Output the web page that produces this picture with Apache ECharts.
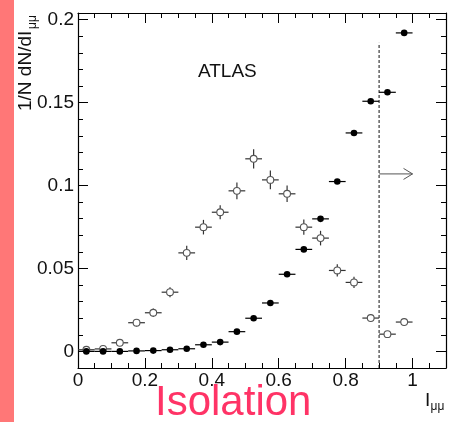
<!DOCTYPE html>
<html>
<head>
<meta charset="utf-8">
<script src="https://cdn.jsdelivr.net/npm/echarts@6/dist/echarts.min.js"></script>
<style>
  html, body { margin: 0; padding: 0; background: #fff; }
  #chart { width: 456px; height: 422px; }
</style>
</head>
<body>
<div id="chart"></div>
<script>
// bin centres of the isolation histogram (bin width 0.05)
var binCenters = [0.025, 0.075, 0.125, 0.175, 0.225, 0.275, 0.325, 0.375, 0.425, 0.475,
                  0.525, 0.575, 0.625, 0.675, 0.725, 0.775, 0.825, 0.875, 0.925, 0.975]
var binWidth = 0.05

// filled markers
var filledValues = [0.0, 0.0, 0.0, 0.0003, 0.0005, 0.001, 0.0016, 0.004, 0.0056, 0.0119,
                    0.02, 0.0292, 0.0465, 0.0615, 0.0799, 0.1024, 0.1317, 0.1508, 0.1562, 0.192]

// open markers and their vertical errors
var openValues = [0.001, 0.0015, 0.0052, 0.0173, 0.0233, 0.0357, 0.0594, 0.0749, 0.0839, 0.0968,
                  0.1161, 0.1034, 0.095, 0.0749, 0.0683, 0.0488, 0.0416, 0.0201, 0.0104, 0.0177]
var openErrors = [0.0005, 0.0007, 0.0012, 0.0022, 0.0026, 0.003, 0.0043, 0.0044, 0.0042, 0.005,
                  0.0058, 0.0056, 0.005, 0.0046, 0.0044, 0.0037, 0.0034, 0.0024, 0.0017, 0.0022]

// cut line and arrow
var cutX = 0.9
var cutTop = 0.186
var arrowY = 0.107
var arrowEnd = 1.0

// axes
var xRange = [0, 1.1]
var yRange = [-0.01, 0.204]
var xLabels = [0, 0.2, 0.4, 0.6, 0.8, 1]
var xMinor = [0.05, 0.1, 0.15, 0.25, 0.3, 0.35, 0.45, 0.5, 0.55, 0.65, 0.7, 0.75, 0.85, 0.9, 0.95, 1.05]
var yLabels = [0, 0.05, 0.1, 0.15, 0.2]
var yMinor = [-0.01, 0.01, 0.02, 0.03, 0.04, 0.06, 0.07, 0.08, 0.09, 0.11, 0.12, 0.13, 0.14,
              0.16, 0.17, 0.18, 0.19]

var font = 'Liberation Sans, Arial, Helvetica, sans-serif'

var chart = echarts.init(document.getElementById('chart'), null, { renderer: 'canvas' })

function makeAxis(range, pos, ticks, len, withLine, labels) {
  return {
    type: 'value',
    position: pos,
    min: range[0],
    max: range[1],
    splitLine: { show: false },
    axisLine: { show: withLine, onZero: false, lineStyle: { color: '#000', width: 1.2 } },
    axisTick: { show: true, inside: true, length: len, customValues: ticks,
                lineStyle: { color: '#000', width: 1 } },
    axisLabel: labels ? {
      show: true,
      customValues: labels,
      color: '#111',
      fontSize: 19,
      fontFamily: font,
      margin: pos === 'left' ? 4 : 3,
      padding: pos === 'left' ? [4, 0, 0, 0] : 0,
      formatter: function (v) { return String(v) }
    } : { show: false }
  }
}

function renderPoints(open) {
  return function (params, api) {
    var x = api.value(0)
    var y = api.value(1)
    var err = api.value(2)
    var c = api.coord([x, y])
    var left = api.coord([x - binWidth / 2, y])[0]
    var right = api.coord([x + binWidth / 2, y])[0]
    var top = api.coord([x, y + err])[1]
    var bottom = api.coord([x, y - err])[1]
    var color = open ? '#333' : '#000'
    return {
      type: 'group',
      children: [
        { type: 'line', shape: { x1: left, y1: c[1], x2: right, y2: c[1] },
          style: { stroke: color, lineWidth: 1.2 } },
        { type: 'line', shape: { x1: c[0], y1: top, x2: c[0], y2: bottom },
          style: { stroke: color, lineWidth: 1.2 } },
        { type: 'circle', shape: { cx: c[0], cy: c[1], r: open ? 3.4 : 3.3 },
          style: open ? { fill: '#fff', stroke: '#555', lineWidth: 1.1 } : { fill: '#000' } }
      ]
    }
  }
}

function renderCut(params, api) {
  var base = api.coord([api.value(0), yRange[0]])
  var top = api.coord([api.value(0), api.value(1)])
  var a0 = api.coord([api.value(0), api.value(2)])
  var a1 = api.coord([api.value(3), api.value(2)])
  return {
    type: 'group',
    children: [
      { type: 'line', shape: { x1: base[0], y1: base[1], x2: top[0], y2: top[1] },
        style: { stroke: '#111', lineWidth: 1, lineDash: [3, 2] } },
      { type: 'line', shape: { x1: a0[0], y1: a0[1], x2: a1[0], y2: a1[1] },
        style: { stroke: '#555', lineWidth: 1 } },
      { type: 'polyline', shape: { points: [[a1[0] - 9, a1[1] - 5.5], [a1[0], a1[1]], [a1[0] - 9, a1[1] + 5.5]] },
        style: { stroke: '#555', lineWidth: 1, fill: null } }
    ]
  }
}

var openData = binCenters.map(function (x, i) { return [x, openValues[i], openErrors[i]] })
var filledData = binCenters.map(function (x, i) { return [x, filledValues[i], 0] })

chart.setOption({
  animation: false,
  backgroundColor: '#fff',
  grid: { left: 78, right: 10, top: 13, bottom: 54 },
  xAxis: [
    makeAxis(xRange, 'bottom', xLabels, 10, true, xLabels),
    makeAxis(xRange, 'bottom', xMinor, 5, false, null),
    makeAxis(xRange, 'top', xLabels, 10, true, null),
    makeAxis(xRange, 'top', xMinor, 5, false, null)
  ],
  yAxis: [
    makeAxis(yRange, 'left', yLabels, 10, true, yLabels),
    makeAxis(yRange, 'left', yMinor, 5, false, null),
    makeAxis(yRange, 'right', yLabels, 10, true, null),
    makeAxis(yRange, 'right', yMinor, 5, false, null)
  ],
  graphic: [
    { type: 'rect', left: 0, top: 0, shape: { width: 14, height: 422 }, style: { fill: '#ff7777' } },
    { type: 'text', x: 25.5, y: 111, rotation: Math.PI / 2,
      style: { text: '1/N dN/dI', font: '19px ' + font, fill: '#111', align: 'left', verticalAlign: 'middle' } },
    { type: 'text', x: 33, y: 29, rotation: Math.PI / 2,
      style: { text: 'μμ', font: '12px ' + font, fill: '#111', align: 'left', verticalAlign: 'middle' } },
    { type: 'text', x: 198, y: 71.4,
      style: { text: 'ATLAS', font: '19px ' + font, fill: '#111', align: 'left', verticalAlign: 'middle' } },
    { type: 'text', x: 425, y: 400.4,
      style: { text: 'I', font: '19px ' + font, fill: '#111', align: 'left', verticalAlign: 'middle' } },
    { type: 'text', x: 430.5, y: 407,
      style: { text: 'μμ', font: '12px ' + font, fill: '#111', align: 'left', verticalAlign: 'middle' } },
    { type: 'text', x: 155, y: 403.5,
      style: { text: 'Isolation', font: '42px ' + font, fill: '#ff3366', align: 'left', verticalAlign: 'middle' } }
  ],
  series: [
    { type: 'custom', name: 'open', renderItem: renderPoints(true), encode: { x: 0, y: 1 },
      data: openData, clip: false, z: 2 },
    { type: 'custom', name: 'filled', renderItem: renderPoints(false), encode: { x: 0, y: 1 },
      data: filledData, clip: false, z: 3 },
    { type: 'custom', name: 'cut', renderItem: renderCut, encode: { x: 0, y: 1 },
      data: [[cutX, cutTop, arrowY, arrowEnd]], clip: false, z: 1 }
  ]
})
</script>
</body>
</html>
